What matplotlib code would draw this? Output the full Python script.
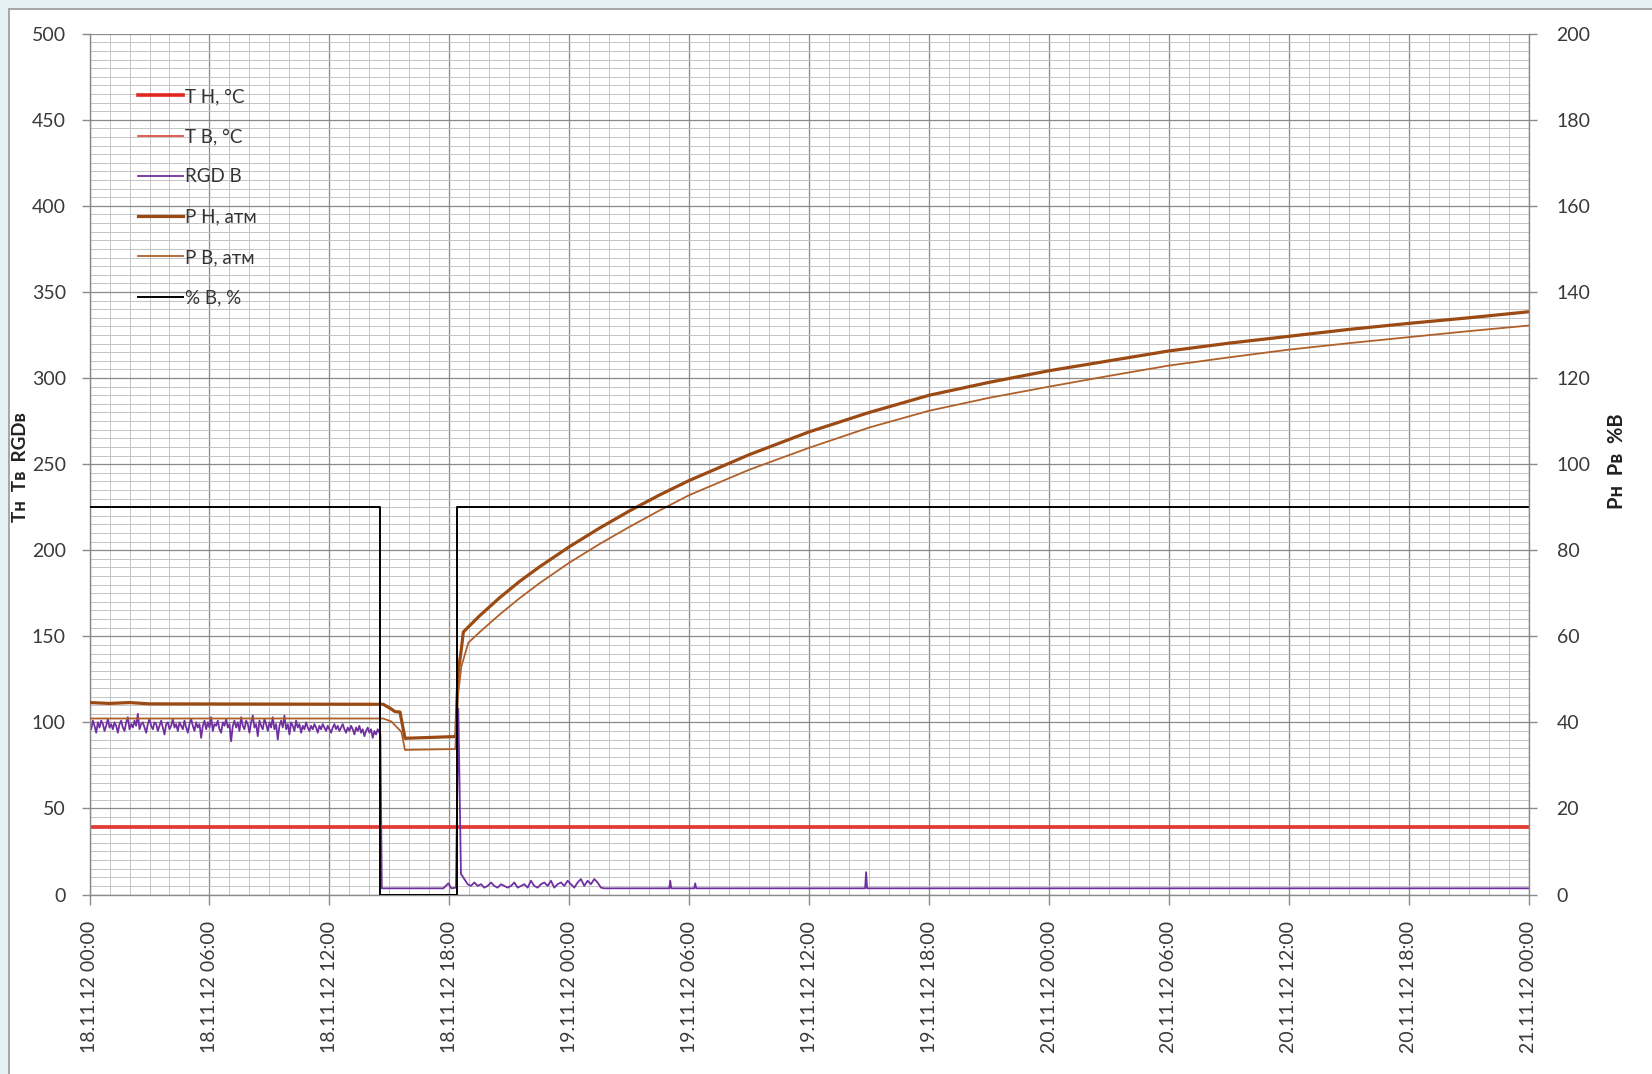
import numpy as np
import pandas as pd
import matplotlib
matplotlib.use("Agg")
import matplotlib.pyplot as plt
import matplotlib.dates as mdates
from matplotlib.patches import Rectangle
from matplotlib.ticker import MultipleLocator

plt.rcParams['font.family'] = ['Lato', 'DejaVu Sans']

START = pd.Timestamp("2012-11-18 00:00")
END = pd.Timestamp("2012-11-21 00:00")

# ---- data (hours from 18.11.12 00:00) ----
# temperatures, °C (left axis)
t_hours = [0, 72]
th_vals = [39.5, 39.5]
tb_vals = [39.5, 39.5]

# RGD B before shutdown, one reading per 5 min from 00:00
rgd_pre = [99, 96, 101, 98, 94, 100, 97, 101, 99, 95, 98, 102, 97, 99, 96, 100,
           98, 94, 99, 101, 97, 95, 100, 103, 96, 99, 97, 101, 98, 105, 96, 99,
           100, 97, 94, 99, 102, 98, 96, 100, 99, 95, 98, 101, 97, 93, 99, 100,
           96, 98, 102, 97, 99, 95, 100, 98, 96, 101, 97, 94, 99, 102, 98, 95,
           100, 97, 99, 91, 98, 101, 96, 100, 97, 103, 95, 99, 98, 101, 96, 94,
           100, 98, 102, 97, 99, 89, 98, 101, 97, 100, 95, 103, 98, 96, 101, 99,
           94, 100, 104, 97, 99, 92, 101, 98, 96, 102, 99, 95, 100, 97, 103, 96,
           99, 90, 98, 101, 97, 104, 96, 99, 93, 100, 98, 95, 101, 97, 99, 94,
           98, 96, 100, 97, 95, 98, 96, 99, 97, 94, 98, 96, 99, 97, 95, 98,
           96, 94, 97, 99, 96, 98, 95, 97, 99, 96, 94, 97, 95, 98, 96, 93,
           97, 95, 98, 94, 96, 92, 95, 97, 94, 96, 91, 95, 93, 96]
# shutdown and restart
rgd_gap_hours = [14.55, 14.62, 17.70, 17.95, 18.10, 18.33, 18.45, 18.58]
rgd_gap_vals = [93, 3.6, 3.6, 6.5, 3.6, 4, 108, 12]
# after restart, one reading per 10 min from 18:45
rgd_post = [9, 6, 5, 7, 5, 6, 4, 5, 7, 5, 4, 6, 5, 4, 5, 7, 4, 5, 6, 4, 8,
            5, 4, 6, 7, 5, 8, 4, 6, 7, 5, 8, 6, 4, 7, 9, 5, 8, 6, 9, 7, 4]
rgd_tail_hours = [25.75, 29.0, 29.05, 29.1, 30.25, 30.3, 30.35, 38.8, 38.85, 38.9, 72]
rgd_tail_vals = [3.6, 3.6, 8, 3.6, 3.6, 6.5, 3.6, 3.6, 13, 3.6, 3.6]

# pressures, атм (right axis)
ph_hours = [0, 1, 2, 3, 14.69, 15.03, 15.28, 15.53, 15.78, 18.28, 18.33, 18.38,
            18.45, 18.6, 18.7, 19.5, 20.5, 21.5, 22.5, 24, 25.5, 27, 28.5, 30,
            33, 36, 39, 42, 45, 48, 51, 54, 57, 60, 63, 66, 69, 72]
ph_vals = [44.6, 44.4, 44.6, 44.3, 44.2, 43.3, 42.5, 42.4, 36.3, 36.7, 37, 45,
           52, 57, 61, 64.7, 68.9, 72.7, 76.1, 80.8, 85.1, 89.1, 92.8, 96.2,
           102.2, 107.5, 112.0, 116, 119, 121.7, 124, 126.3, 128.1, 129.7,
           131.3, 132.7, 134, 135.4]

pb_hours = [0, 14.69, 15.1, 15.6, 15.78, 18.3, 18.4, 18.6, 18.95, 19.5, 20.5,
            21.5, 22.5, 24, 25.5, 27, 28.5, 30, 33, 36, 39, 42, 45, 48, 51, 54,
            57, 60, 63, 66, 69, 72]
pb_vals = [40.9, 40.9, 40.2, 37.8, 33.6, 33.8, 45, 53, 58.5, 60.9, 65.0, 68.8,
           72.3, 77.1, 81.4, 85.4, 89.2, 92.8, 98.7, 103.8, 108.5, 112.4, 115.4,
           118, 120.5, 122.9, 124.8, 126.6, 128.1, 129.5, 130.9, 132.2]

# % B, %
pct_hours = [0, 14.55, 14.55, 18.38, 18.38, 72]
pct_vals = [90, 90, 0, 0, 90, 90]


def at(hours):
    return START + pd.to_timedelta(np.asarray(hours, dtype=float), unit="h")


def every(first_hour, n, minutes):
    return at(first_hour + np.arange(n) * minutes / 60.0)


rgd_x = np.concatenate([every(0, len(rgd_pre), 5), at(rgd_gap_hours),
                        every(18.75, len(rgd_post), 10), at(rgd_tail_hours)])
rgd_y = np.concatenate([rgd_pre, rgd_gap_vals, rgd_post, rgd_tail_vals])

# ---- figure ----
fig = plt.figure(figsize=(16.52, 10.74), dpi=100)
fig.patch.set_facecolor('#e3f1f3')
fig.patches.append(Rectangle((9 / 1652, -0.01), 1.0, 1.01 - 9 / 1074,
                             transform=fig.transFigure, facecolor='white',
                             edgecolor='#a0a0a0', lw=1.3, zorder=-5))

ax = fig.add_axes([0.0542, 0.1671, 0.8712, 0.8015])
ax2 = ax.twinx()
ax.patch.set_alpha(0)

l1, = ax.plot(at(t_hours), th_vals, color='#e3261f', lw=2.6, label='T Н, °C')
l2, = ax.plot(at(t_hours), tb_vals, color='#e0403a', lw=1.2, label='T В, °C')
l3, = ax.plot(rgd_x, rgd_y, color='#7030a0', lw=1.3, label='RGD В')
l4, = ax2.plot(at(ph_hours), ph_vals, color='#9c4a14', lw=2.3, label='P Н, атм')
l5, = ax2.plot(at(pb_hours), pb_vals, color='#b0602a', lw=1.3, label='P В, атм')
l6, = ax2.plot(at(pct_hours), pct_vals, color='black', lw=1.4, label='% В, %')

ax.set_xlim(START, END)
ax.set_ylim(0, 500)
ax2.set_ylim(0, 200)
ax.yaxis.set_major_locator(MultipleLocator(50))
ax.yaxis.set_minor_locator(MultipleLocator(5))
ax2.yaxis.set_major_locator(MultipleLocator(20))

ax.xaxis.set_major_locator(mdates.HourLocator(byhour=[0, 6, 12, 18]))
ax.xaxis.set_minor_locator(mdates.HourLocator(interval=1))
ax.xaxis.set_major_formatter(mdates.DateFormatter('%d.%m.%y %H:%M'))

ax.grid(which='major', color='#8a8a8a', lw=0.9)
ax.grid(which='minor', color='#c4c4c4', lw=0.7)
ax.set_axisbelow(True)

for a in (ax, ax2):
    for s in a.spines.values():
        s.set_visible(False)
ax.spines['left'].set_visible(True)
ax.spines['bottom'].set_visible(True)
ax2.spines['right'].set_visible(True)
for s in (ax.spines['left'], ax.spines['bottom'], ax2.spines['right']):
    s.set_color('#8a8a8a')
    s.set_linewidth(1.0)

ax.tick_params(axis='y', which='major', length=6, width=1, color='#8a8a8a',
               pad=11, labelsize=14, labelcolor='#3a3a3a')
ax.tick_params(axis='x', which='major', length=7, width=1, color='#8a8a8a',
               pad=12, labelsize=14, labelcolor='#3a3a3a', labelrotation=90)
ax.tick_params(which='minor', length=0)
ax2.tick_params(axis='y', which='major', length=6, width=1, color='#8a8a8a',
                pad=14, labelsize=14, labelcolor='#3a3a3a')
ax2.tick_params(which='minor', length=0)

# axis titles
fig.text(21 / 1652, 1 - 467 / 1074, 'Tн  Tв  RGDв', rotation=90,
         ha='center', va='center', fontsize=13.5, fontweight='bold', color='#222222')
fig.text(1617 / 1652, 1 - 461 / 1074, 'Pн  Pв  %В', rotation=90,
         ha='center', va='center', fontsize=14.5, fontweight='bold', color='#222222')

ax2.legend(handles=[l1, l2, l3, l4, l5, l6], loc='upper left',
           bbox_to_anchor=(0.0335, 0.937), frameon=False, fontsize=13.5,
           borderpad=0, borderaxespad=0, handlelength=2.4, handletextpad=0.1,
           labelspacing=1.24, labelcolor='#333333')

fig.savefig('out.png', dpi=100, facecolor=fig.get_facecolor())
